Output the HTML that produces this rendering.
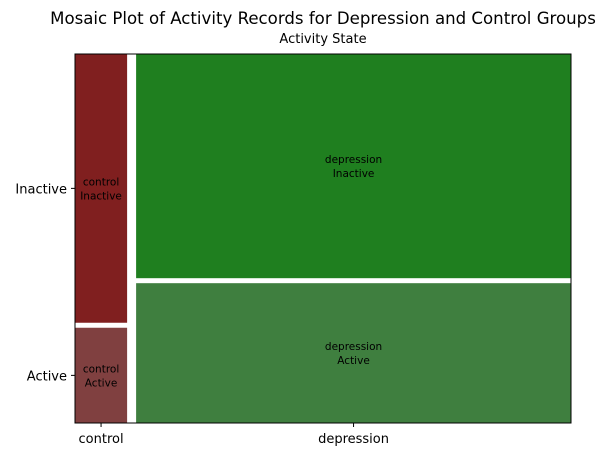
<!DOCTYPE html>
<html><head><meta charset="utf-8"><style>
body{margin:0;background:#fff;}
svg text{font-family:"DejaVu Sans","Liberation Sans",sans-serif;}
</style></head><body>
<svg id="chart" width="606" height="457" viewBox="0 0 606 457">
<text x="323" y="24" font-size="16.6" text-anchor="middle">Mosaic Plot of Activity Records for Depression and Control Groups</text>
<text x="323" y="43" font-size="13" text-anchor="middle">Activity State</text>
<g id="marks"></g>
<rect x="75" y="54" width="496" height="369" fill="none" stroke="#000" stroke-width="1"/>
</svg>
<script>
const groups = ['control', 'depression'];
const states = ['Inactive', 'Active'];
const inactiveCounts = [79, 550];
const activeCounts = [28, 343];
const colorsInactive = ['#801f1f', '#1f7f1f'];
const colorsActive = ['#804040', '#3f7f3f'];

const svg = document.getElementById('chart');
const g = document.getElementById('marks');
const NS = 'http://www.w3.org/2000/svg';
const X0 = 75, X1 = 571, Y0 = 54, Y1 = 423, GX = 9, GY = 5;
const totals = groups.map((_, i) => inactiveCounts[i] + activeCounts[i]);
const grand = totals.reduce((a, b) => a + b, 0);
const availW = (X1 - X0) - GX * (groups.length - 1);
function xScale(frac) { return frac * availW; }
function yScale(frac) { return frac * ((Y1 - Y0) - GY); }
function mk(tag, attrs) { const e = document.createElementNS(NS, tag); for (const k in attrs) e.setAttribute(k, attrs[k]); return e; }

let x = X0;
groups.forEach((grp, i) => {
  const w = xScale(totals[i] / grand);
  const hIn = yScale(inactiveCounts[i] / totals[i]);
  const hAc = yScale(activeCounts[i] / totals[i]);
  const r1 = mk('rect', {x: x, y: Y0, width: w, height: hIn, fill: colorsInactive[i]});
  
  
  g.appendChild(r1);
  const r2 = mk('rect', {x: x, y: Y1 - hAc, width: w, height: hAc, fill: colorsActive[i]});
  
  
  g.appendChild(r2);
  [[Y0 + hIn / 2, 'Inactive', 'inactive'], [Y1 - hAc / 2, 'Active', 'active']].forEach(([cy, lab, key]) => {
    const t = mk('text', {x: x + w / 2, y: cy - 3, 'font-size': 10.5, 'text-anchor': 'middle'});
    
    
    const s1 = mk('tspan', {x: x + w / 2, dy: 0}); s1.textContent = grp;
    const s2 = mk('tspan', {x: x + w / 2, dy: 14}); s2.textContent = lab;
    t.appendChild(s1); t.appendChild(s2); g.appendChild(t);
  });
  const cx = x + w / 2;
  const tk = mk('line', {x1: cx, x2: cx, y1: Y1, y2: Y1 + 4, stroke: '#000'});
  
  
  g.appendChild(tk);
  const tl = mk('text', {x: cx, y: Y1 + 20, 'font-size': 13, 'text-anchor': 'middle'});
  
  
  tl.textContent = grp; g.appendChild(tl);
  x += w + GX;
});
const hIn0 = yScale(inactiveCounts[0] / totals[0]);
const hAc0 = yScale(activeCounts[0] / totals[0]);
[[Y0 + hIn0 / 2, states[0]], [Y1 - hAc0 / 2, states[1]]].forEach(([cy, lab]) => {
  const tk = mk('line', {x1: X0 - 4, x2: X0, y1: cy, y2: cy, stroke: '#000'});
  
  
  g.appendChild(tk);
  const tl = mk('text', {x: X0 - 8, y: cy + 5, 'font-size': 13, 'text-anchor': 'end'});
  
  
  tl.textContent = lab; g.appendChild(tl);
});
</script>
</body></html>
